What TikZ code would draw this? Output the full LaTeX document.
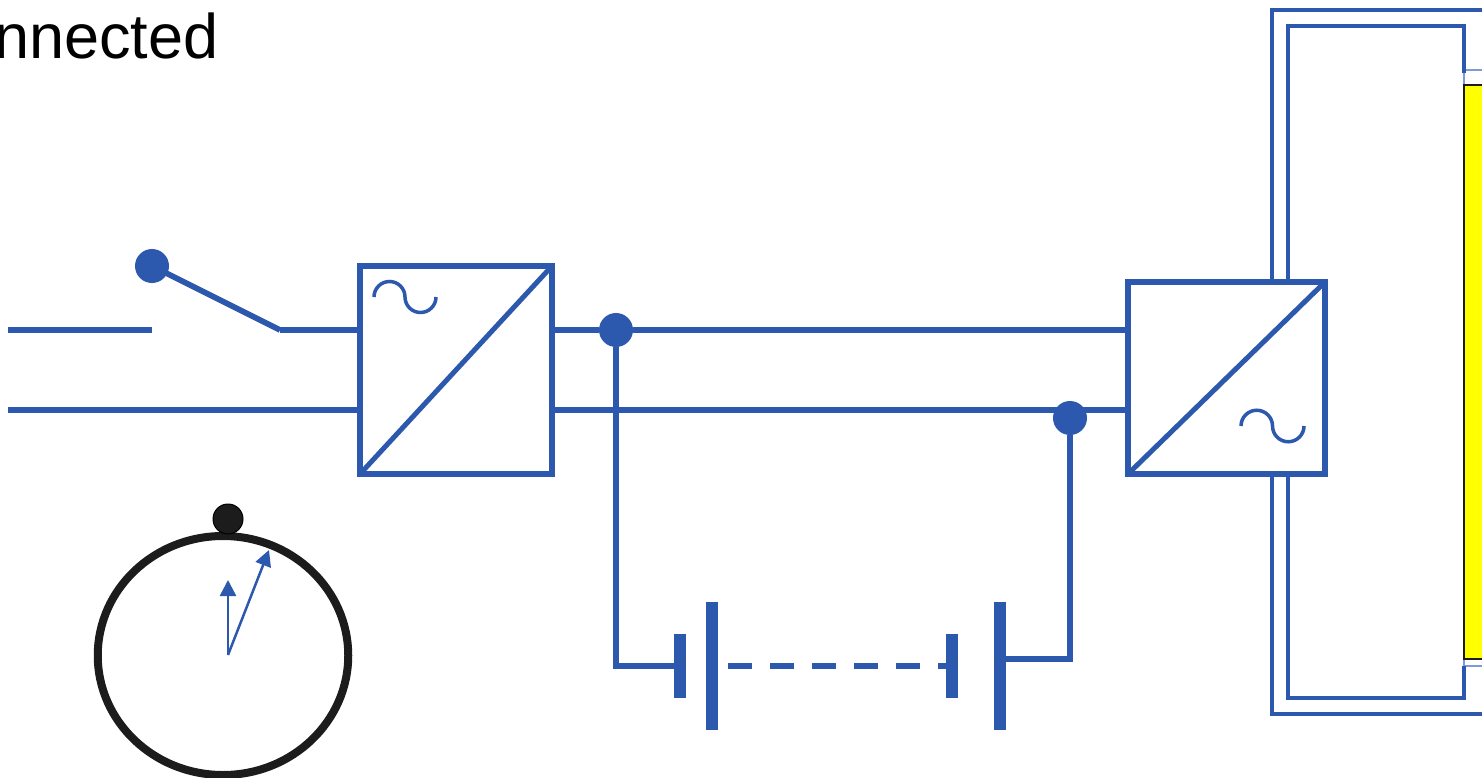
\documentclass[tikz,border=0pt]{standalone}
\usepackage{fontspec}
\setmainfont{Liberation Sans}
\definecolor{wire}{HTML}{2C58AD}
\definecolor{dial}{HTML}{1C1C1C}
\definecolor{framelight}{HTML}{7F9AD6}
\definecolor{panelyellow}{HTML}{FFFF00}
\tikzstyle{conv}=[rectangle, draw=wire, fill=white, line width=6pt, inner sep=0pt, outer sep=0pt]
\tikzstyle{junction}=[circle, fill=wire, inner sep=0pt, outer sep=0pt, minimum size=34pt]
\tikzstyle{plate}=[rectangle, fill=wire, inner sep=0pt, outer sep=0pt, minimum width=12pt]
\tikzstyle{tilde}=[wire, line width=3.5pt]
\tikzstyle{hand}=[wire, line width=2.5pt, -{Triangle[length=16pt,width=16pt]}]
\usetikzlibrary{arrows.meta,shapes.geometric}

\begin{document}
\begin{tikzpicture}[x=1pt, y=-1pt, wire, line width=5.8pt]
    \useasboundingbox (0,0) rectangle (1482,778);
    \node[anchor=base east, black, font=\fontsize{63}{63}\selectfont, inner sep=0pt, outer sep=0pt] (title) at (218.5,59) {nnected};

    \node[rectangle, draw=framelight, line width=2.5pt, minimum width=60pt, minimum height=596pt, inner sep=0pt] (frame) at (1494,368) {};
    \node[rectangle, draw=dial, fill=panelyellow, line width=1.5pt, minimum width=60pt, minimum height=574pt, inner sep=0pt] (panel) at (1494,372) {};

    \coordinate (outerA) at (1272,282);
    \coordinate (outerB) at (1272,10);
    \coordinate (outerC) at (1500,10);
    \coordinate (innerA) at (1288,282);
    \coordinate (innerB) at (1288,26);
    \coordinate (innerC) at (1464,26);
    \coordinate (innerD) at (1464,73);
    \coordinate (outerD) at (1272,474);
    \coordinate (outerE) at (1272,714);
    \coordinate (outerF) at (1500,714);
    \coordinate (innerE) at (1288,474);
    \coordinate (innerF) at (1288,698);
    \coordinate (innerG) at (1464,698);
    \coordinate (innerH) at (1464,666);
    \draw[line width=4pt] (outerA)--(outerB)--(outerC);
    \draw[line width=4pt] (innerA)--(innerB)--(innerC)--(innerD);
    \draw[line width=4pt] (outerD)--(outerE)--(outerF);
    \draw[line width=4pt] (innerE)--(innerF)--(innerG)--(innerH);

    \coordinate (lineT) at (8,330);
    \coordinate (lineB) at (8,410);
    \coordinate (contact) at (152,330);
    \coordinate (pivot) at (280,330);
    \node[junction] (lever) at (152,266) {};
    \node[conv, minimum width=192pt, minimum height=208pt] (conva) at (456,370) {};
    \node[conv, minimum width=197pt, minimum height=192pt] (convb) at (1226.5,378) {};
    \node[junction] (nodeT) at (616,330) {};
    \node[junction] (nodeB) at (1070,418) {};
    \coordinate (nodeBT) at (1070,410);

    \draw (lineT)--(contact);
    \draw (lever.center)--(pivot);
    \draw (pivot)--(conva.west |- pivot);
    \draw (lineB)--(conva.west |- lineB);
    \draw (conva.east |- nodeT)--(nodeT);
    \draw (nodeT)--(convb.west |- nodeT);
    \draw (conva.east |- lineB)--(nodeBT);
    \draw (nodeBT)--(convb.west |- nodeBT);
    \draw[line width=5pt] (conva.south west)--(conva.north east);
    \draw[line width=5pt] (convb.south west)--(convb.north east);

    \draw[tilde] (374,297) arc (180:360:15.5) arc (180:0:15.5);
    \draw[tilde] (1241,426) arc (180:360:15.75) arc (180:0:15.75);

    \node[plate, minimum height=64pt] (cella) at (680,666) {};
    \node[plate, minimum height=128pt] (cellb) at (712,666) {};
    \node[plate, minimum height=64pt] (cellc) at (952,666) {};
    \node[plate, minimum height=128pt] (celld) at (1000,666) {};
    \coordinate (cornerL) at (616,666);
    \coordinate (cornerR) at (1070,659);
    \coordinate (dashStart) at (728,666);
    \draw (nodeT)--(cornerL)--(cella);
    \draw (nodeB)--(cornerR)--(celld.east |- cornerR);
    \draw[dash pattern=on 24pt off 18pt] (dashStart)--(cellc);

    \node[ellipse, draw=dial, line width=8pt, minimum width=250.5pt, minimum height=239pt, inner sep=0pt] (clock) at (223,655.5) {};
    \node[circle, draw=black, fill=dial, line width=1pt, minimum size=30pt, inner sep=0pt] (knob) at (228,519) {};
    \coordinate (hub) at (228,655);
    \coordinate (tipa) at (228,580);
    \coordinate (tipb) at (269,550);
    \draw[hand] (hub)--(tipa);
    \draw[hand] (hub)--(tipb);
\end{tikzpicture}
\end{document}
